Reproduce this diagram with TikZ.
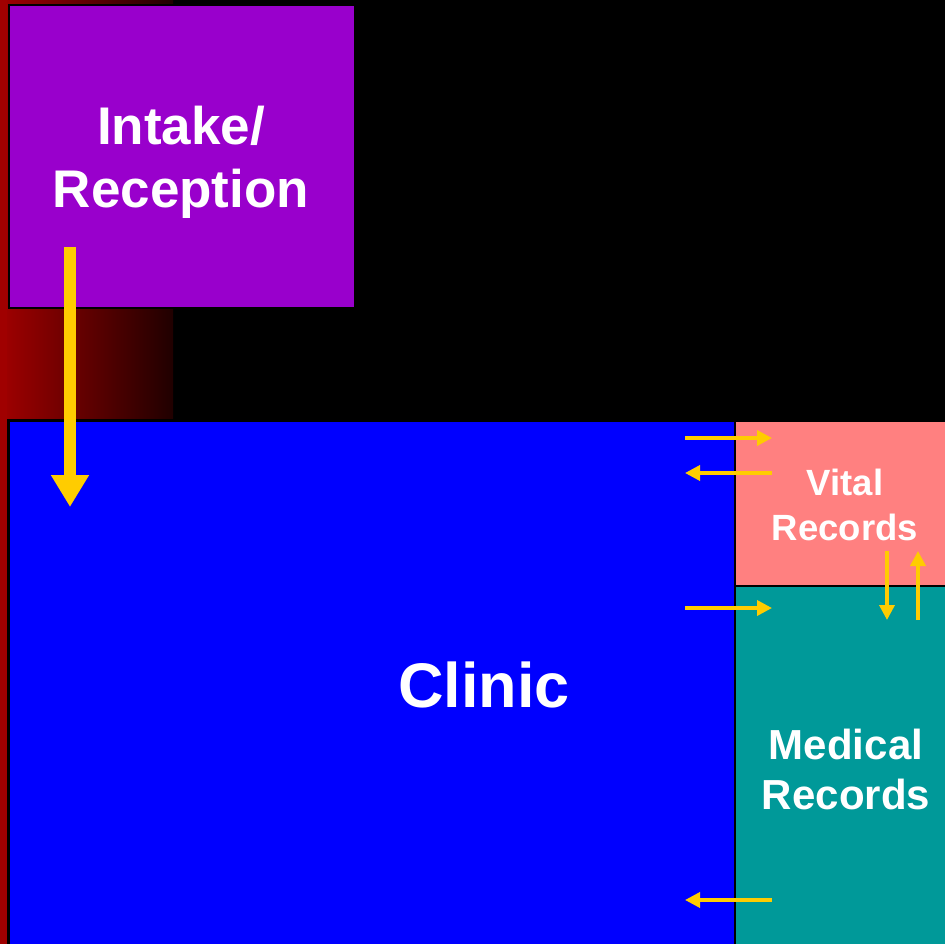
\documentclass[tikz,border=0pt]{standalone}
\usepackage{fontspec}
\setmainfont{Liberation Sans}
\usetikzlibrary{arrows.meta}
\definecolor{RedL}{RGB}{160,0,0}
\definecolor{RedR}{RGB}{32,0,0}
\definecolor{Purp}{RGB}{153,0,204}
\definecolor{ClinBlue}{RGB}{0,0,255}
\definecolor{VitalPink}{RGB}{255,128,128}
\definecolor{MedTeal}{RGB}{0,153,153}
\definecolor{Gold}{RGB}{255,204,0}
\tikzset{
  roombox/.style={draw=black, line width=2pt, inner sep=0pt, anchor=north west},
  roomlabel/.style={text=white, align=center, font=\bfseries},
  bigarrow/.style={draw=Gold, line width=12pt, -{Triangle[width=36pt,length=32pt]}},
  smallarrow/.style={draw=Gold, line width=3.5pt, -{Triangle[width=15pt,length=15pt]}}
}
\begin{document}
\begin{tikzpicture}[x=1pt,y=-1pt]
\useasboundingbox (0,0) rectangle (945,944);
\fill[black] (0,0) rectangle (945,944);
% red background strip and gradient
\shade[left color=RedL, right color=RedR] (0,0) rectangle (173,418);
\fill[RedL] (0,0) rectangle (7,944);
% rooms
\node[roombox, fill=Purp, minimum width=346pt, minimum height=303pt] (intake) at (8,4) {};
\node[roombox, fill=ClinBlue, minimum width=726pt, minimum height=540pt] (clinic) at (8,420) {};
\node[roombox, fill=VitalPink, minimum width=230pt, minimum height=165pt] (vital) at (734,420) {};
\node[roombox, fill=MedTeal, minimum width=230pt, minimum height=375pt] (medical) at (734,585) {};
% labels
\node[roomlabel, font=\fontsize{53}{63}\selectfont\bfseries] (intakelbl) at (181,162) {Intake/\\Reception};
\node[roomlabel, font=\fontsize{63}{75}\selectfont\bfseries] (cliniclbl) at (484,685) {Clinic};
\node[roomlabel, font=\fontsize{36.5}{45}\selectfont\bfseries] (vitallbl) at (845,505) {Vital\\Records};
\node[roomlabel, font=\fontsize{42}{50}\selectfont\bfseries] (medlbl) at (846,769) {Medical\\Records};
% arrow end points
\coordinate (a1s) at (70,247);
\coordinate (a1e) at (70,507);
\coordinate (b1s) at (685,438);
\coordinate (b1e) at (772,438);
\coordinate (b2s) at (772,473);
\coordinate (b2e) at (685,473);
\coordinate (b3s) at (685,608);
\coordinate (b3e) at (772,608);
\coordinate (b4s) at (772,900);
\coordinate (b4e) at (685,900);
\coordinate (b5s) at (887,551);
\coordinate (b5e) at (887,620);
\coordinate (b6s) at (918,620);
\coordinate (b6e) at (918,551);
% arrows
\draw[bigarrow] (a1s) -- (a1e);
\draw[smallarrow] (b1s) -- (b1e);
\draw[smallarrow] (b2s) -- (b2e);
\draw[smallarrow] (b3s) -- (b3e);
\draw[smallarrow] (b4s) -- (b4e);
\draw[smallarrow] (b5s) -- (b5e);
\draw[smallarrow] (b6s) -- (b6e);
\end{tikzpicture}
\end{document}
